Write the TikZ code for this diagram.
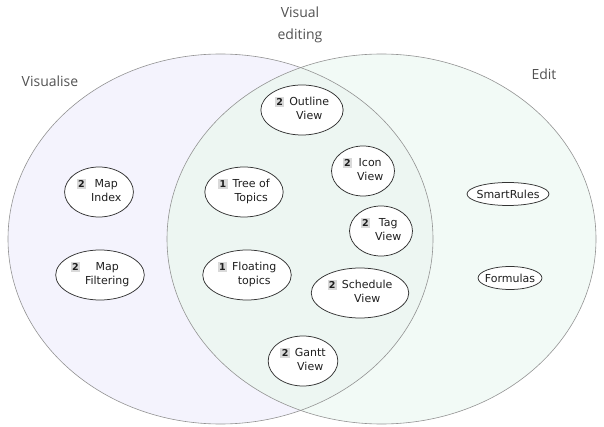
\documentclass[tikz,border=0pt]{standalone}
\usepackage{fontspec}
\setmainfont{DejaVu Sans}
\newfontfamily\headfont{Open Sans}
\usetikzlibrary{shapes.geometric}
\definecolor{visfill}{HTML}{F4F3FD}
\definecolor{editfill}{HTML}{F2FAF6}
\definecolor{bothfill}{HTML}{EDF6F2}
\definecolor{rimgray}{HTML}{939393}
\definecolor{badgegray}{HTML}{D9D9D9}
\newcommand{\badge}[1]{{\setlength{\fboxsep}{1.4pt}\colorbox{badgegray}{\fontsize{9.5}{10}\selectfont\bfseries #1}}}
\newcommand{\topictext}[3]{\renewcommand{\arraystretch}{1.05}\begin{tabular}{@{}c@{\hspace{5pt}}c@{}}\badge{#1}&#2\\&#3\end{tabular}}
\begin{document}
\begin{tikzpicture}[x=1pt,y=-1pt,
    topic/.style={ellipse,draw=black!80,fill=white,line width=.75pt,inner xsep=2pt,inner ysep=3.5pt,text=black!88,font=\fontsize{11}{13.5}\selectfont},
    single/.style={topic,inner xsep=-2.5pt,inner ysep=0pt,minimum height=23pt},
    head/.style={text=black!68,font=\headfont\fontsize{14}{22}\selectfont,align=center}]
      \useasboundingbox (0,0) rectangle (604,427);
      \fill[visfill] (220.5,239) ellipse [x radius=212.5,y radius=185];
      \fill[editfill] (381.5,239) ellipse [x radius=214.5,y radius=185];
      \begin{scope}
        \clip (220.5,239) ellipse [x radius=212.5,y radius=185];
        \fill[bothfill] (381.5,239) ellipse [x radius=214.5,y radius=185];
      \end{scope}
      \draw[rimgray,line width=.6pt] (220.5,239) ellipse [x radius=212.5,y radius=185];
      \draw[rimgray,line width=.6pt] (381.5,239) ellipse [x radius=214.5,y radius=185];
      % set labels
      \node[head] (visualise) at (50,81) {Visualise};
      \node[head] (visedit) at (300,25) {Visual\\editing};
      \node[head] (edit) at (544,74) {Edit};
      % topics
      \node[topic] (outline) at (302,110) {\topictext{2}{Outline}{View}};
      \node[topic] (icon) at (363,171) {\topictext{2}{Icon}{View}};
      \node[topic] (tree) at (244,192) {\topictext{1}{Tree of}{Topics}};
      \node[topic] (tag) at (381,231) {\topictext{2}{Tag}{View}};
      \node[topic] (floating) at (247,275) {\topictext{1}{Floating}{topics}};
      \node[topic] (schedule) at (360,293) {\topictext{2}{Schedule}{View}};
      \node[topic] (gantt) at (303,361) {\topictext{2}{Gantt}{View}};
      \node[topic] (mapindex) at (99,192) {\topictext{2}{Map}{Index}};
      \node[topic] (mapfilter) at (100,275) {\topictext{2}{Map}{Filtering}};
      \node[single] (smartrules) at (508,194) {SmartRules};
      \node[single] (formulas) at (510,278) {Formulas};
\end{tikzpicture}
\end{document}
